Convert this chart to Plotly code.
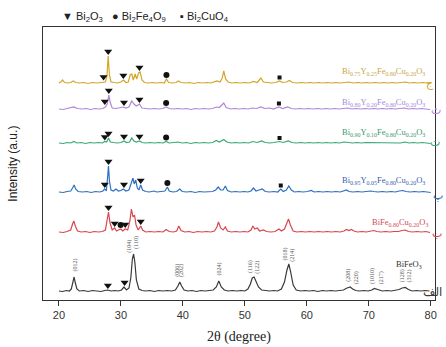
import numpy as np
import plotly.graph_objects as go

# ---------------- data (2theta, intensity above own baseline, a.u.) ----------------
bfo = [(20.0,1),(20.6,0.5),(21.2,1.5),(21.7,1),(22.0,3),(22.25,10),(22.45,15),(22.65,9),(22.9,3),(23.3,1),
       (24.0,1.5),(24.7,0.5),(25.4,1.5),(26.1,1),(26.8,0.5),(27.4,1.5),(27.9,2),(28.4,1),(29.0,1.5),(29.6,1),
       (30.1,2),(30.5,5),(30.9,2),(31.3,4),(31.6,14),(31.85,33),(32.05,38),(32.25,30),(32.5,12),(32.9,3),
       (33.4,1.5),(34.0,1),(34.7,1.5),(35.4,0.5),(36.1,1.5),(36.8,1),(37.5,1.5),(38.2,1),(38.8,2),(39.2,6),
       (39.5,10),(39.8,6),(40.2,2),(40.8,1),(41.5,1.5),(42.2,0.5),(42.9,1.5),(43.6,1),(44.3,1.5),(44.9,2),
       (45.4,5),(45.8,11),(46.2,5),(46.7,2),(47.3,1),(48.0,1.5),(48.7,1),(49.4,1.5),(50.0,1),(50.5,3),
       (50.9,8),(51.2,14),(51.5,15),(51.8,11),(52.2,5),(52.7,2),(53.3,1.5),(54.0,1),(54.7,1.5),(55.3,1),
       (55.9,3),(56.4,10),(56.8,22),(57.1,28),(57.4,20),(57.8,7),(58.3,2),(59.0,1),(59.7,1.5),(60.4,1),
       (61.1,1.5),(61.8,0.5),(62.5,1.5),(63.2,1),(63.9,1.5),(64.6,1),(65.3,1.5),(65.9,2),(66.5,4),(67.0,5),
       (67.4,3),(67.9,1.5),(68.5,1),(69.2,1.5),(69.9,1),(70.5,2),(70.9,3.5),(71.3,3),(71.7,2),(72.2,1),
       (72.9,1.5),(73.6,1),(74.3,1.5),(74.9,2.5),(75.4,4),(75.9,4.5),(76.4,2.5),(77.0,1),(77.7,1.5),(78.4,1),
       (79.1,1.5),(79.8,1)]

bfc = [(20.0,1),(20.7,0.5),(21.3,1.5),(21.9,3),(22.2,9),(22.4,12),(22.65,7),(23.0,2),(23.6,1),(24.3,1.5),
       (25.0,0.5),(25.7,1.5),(26.4,1),(27.0,1.5),(27.5,3),(27.8,14),(28.0,21),(28.25,10),(28.6,3),(29.0,5),
       (29.3,2),(29.6,3),(30.0,4),(30.3,2),(30.7,4),(31.1,3),(31.45,12),(31.7,24),(31.95,16),(32.2,18),
       (32.45,8),(32.8,3),(33.2,7),(33.5,3),(34.0,1),(34.7,1.5),(35.4,1),(36.1,1.5),(36.8,1),(37.3,3.5),
       (37.8,1.5),(38.5,1),(39.0,2),(39.35,7),(39.7,2.5),(40.3,1),(41.0,1.5),(41.7,0.5),(42.4,1.5),(43.1,1),
       (43.8,1.5),(44.5,1),(45.1,2),(45.5,6),(45.75,11),(46.1,5),(46.5,3),(46.85,6),(47.2,2),(47.8,1),
       (48.5,1.5),(49.2,1),(49.9,1.5),(50.5,1),(51.0,3),(51.3,7),(51.6,4),(52.0,5),(52.4,2),(53.0,3),
       (53.5,1.5),(54.2,1),(54.9,1.5),(55.5,4),(55.9,2),(56.4,4),(56.8,11),(57.05,14),(57.35,8),(57.8,2),
       (58.4,1),(59.1,1.5),(59.8,1),(60.5,1.5),(61.2,1),(61.9,1.5),(62.6,1),(63.3,1.5),(64.0,1),(64.7,1.5),
       (65.4,1),(66.0,2),(66.4,3.5),(66.8,2.5),(67.2,3.5),(67.6,2),(68.2,1),(68.9,1.5),(69.6,1),(70.3,1.5),
       (70.8,2.5),(71.3,1.5),(72.0,1),(72.7,1.5),(73.4,1),(74.1,1.5),(74.8,1.5),(75.4,2.5),(75.9,3),(76.4,1.5),
       (77.1,1),(77.8,1.5),(78.5,1),(79.2,1.5),(79.9,0.5)]

by05 = [(20.0,1),(20.7,0.5),(21.3,1.5),(21.9,2),(22.2,5),(22.45,8),(22.7,4),(23.1,1.5),(23.8,1),(24.5,1.5),
        (25.2,0.5),(25.9,1.5),(26.6,1),(27.1,2),(27.4,4),(27.65,2),(27.85,15),(28.0,27),(28.15,12),(28.4,3),
        (28.8,2),(29.2,4),(29.6,2),(30.0,2.5),(30.4,4),(30.8,2),(31.3,3),(31.7,10),(31.95,15),(32.15,9),
        (32.4,13),(32.65,5),(32.9,3),(33.2,8),(33.5,3),(34.0,1.5),(34.6,1),(35.3,2),(35.8,1),(36.5,1.5),
        (37.1,2),(37.5,6),(37.8,2),(38.4,1),(39.0,1.5),(39.5,4),(39.9,1.5),(40.6,1),(41.3,1.5),(42.0,0.5),
        (42.7,1.5),(43.4,1),(44.1,1.5),(44.8,1.5),(45.3,3),(45.7,6),(46.1,3),(46.5,3),(46.85,7),(47.2,2.5),
        (47.8,1),(48.5,1.5),(49.2,1),(49.9,1.5),(50.5,1),(51.0,2),(51.4,5),(51.8,2),(52.3,3),(52.8,4),
        (53.3,1.5),(54.0,1),(54.7,1.5),(55.3,1),(55.8,4),(56.2,1.5),(56.7,3),(57.1,7),(57.5,3),(58.0,1),
        (58.7,1.5),(59.4,1),(60.1,1.5),(60.7,2.5),(61.2,1),(61.9,1.5),(62.6,1),(63.3,1.5),(64.0,1),(64.7,1.5),
        (65.4,1),(66.0,2),(66.4,3),(66.8,1.5),(67.5,1),(68.2,1.5),(68.9,1),(69.6,1.5),(70.3,2),(70.8,1.5),
        (71.5,1),(72.2,1.5),(72.9,1),(73.6,1.5),(74.3,1),(74.9,2),(75.5,2.5),(76.0,1.5),(76.7,1),(77.4,1.5),
        (78.1,1),(78.8,1.5),(79.5,1),(80.0,0.5)]

by10 = [(20.0,1),(20.7,0.5),(21.3,1.5),(21.9,1),(22.4,2.5),(22.9,1),(23.6,1.5),(24.3,0.5),(25.0,1.5),(25.7,1),
        (26.4,1.5),(27.0,1),(27.4,2.5),(27.7,2),(28.0,6),(28.3,2),(28.8,1.5),(29.4,1),(30.0,1.5),(30.5,3),
        (30.9,1.5),(31.4,2),(31.75,6),(32.1,3),(32.5,2),(33.0,3),(33.4,1.5),(34.0,1),(34.7,1.5),(35.4,1),
        (36.1,1.5),(36.8,1),(37.3,2.5),(37.8,1),(38.5,1.5),(39.2,2),(39.9,1),(40.6,1.5),(41.3,0.5),(42.0,1.5),
        (42.7,1),(43.4,1.5),(44.1,1),(44.8,1.5),(45.4,3.5),(45.9,2),(46.6,4.5),(47.1,2),(47.8,1),(48.5,1.5),
        (49.2,1),(49.9,1.5),(50.6,1),(51.3,2.5),(52.0,1.5),(52.7,3),(53.3,1.5),(54.0,1),(54.7,1.5),(55.6,2.5),
        (56.2,1.5),(57.0,3),(57.6,1.5),(58.3,1),(59.0,1.5),(59.7,1),(60.4,1.5),(61.1,1),(61.8,1.5),(62.5,1),
        (63.2,1.5),(63.9,1),(64.6,1.5),(65.3,1),(66.0,2),(66.7,1.5),(67.4,1),(68.1,1.5),(68.8,1),(69.5,1.5),
        (70.2,1.5),(70.9,1),(71.6,1.5),(72.3,1),(73.0,1.5),(73.7,1),(74.4,1.5),(75.1,1),(75.8,2),(76.5,1),
        (77.2,1.5),(77.9,1),(78.6,1.5),(79.3,1),(80.0,0.5)]

by20 = [(20.0,1),(20.7,0.5),(21.3,1.5),(21.8,2),(22.4,3),(23.0,1.5),(23.7,1),(24.4,1.5),(25.1,0.5),(25.8,1.5),
        (26.5,1),(27.1,1.5),(27.5,3),(27.8,6),(28.05,15),(28.3,7),(28.6,2),(29.2,1.5),(29.8,2),(30.4,3),
        (30.8,2),(31.3,3),(31.75,9),(32.1,6),(32.5,4),(33.0,6),(33.4,2),(34.0,1.5),(34.7,1),(35.4,1.5),
        (36.1,1),(36.8,1.5),(37.3,3),(37.8,1.5),(38.5,1),(39.2,1.5),(39.9,1),(40.6,1.5),(41.3,0.5),(42.0,1.5),
        (42.7,1),(43.4,1.5),(44.1,1),(44.8,1.5),(45.4,3),(45.9,2.5),(46.6,7),(47.0,2.5),(47.7,1),(48.4,1.5),
        (49.1,1),(49.8,1.5),(50.5,1),(51.2,2),(51.9,1.5),(52.6,3),(53.2,1.5),(54.0,2),(54.6,1),(55.5,3),
        (56.1,1.5),(56.9,3),(57.5,1.5),(58.2,1),(58.9,1.5),(59.6,1),(60.3,1.5),(61.0,1),(61.7,1.5),(62.4,1),
        (63.1,1.5),(63.8,1),(64.5,1.5),(65.2,1),(65.9,1.5),(66.6,2),(67.3,1),(68.0,1.5),(68.7,1),(69.4,1.5),
        (70.1,1),(70.8,1.5),(71.5,1),(72.2,1.5),(72.9,1),(73.6,1.5),(74.3,1),(75.0,1.5),(75.7,2),(76.4,1),
        (77.1,1.5),(77.8,1),(78.5,1.5),(79.2,1),(79.9,0.5)]

by25 = [(20.0,1),(20.3,2),(20.6,4),(20.9,1.5),(21.4,1),(21.9,1.5),(22.3,3),(22.7,1.5),(23.3,1),(24.0,1.5),
        (24.7,0.5),(25.4,1.5),(26.1,1),(26.8,1.5),(27.2,2.5),(27.5,2),(27.75,8),(27.95,28),(28.15,9),(28.4,2),
        (28.9,1.5),(29.5,1),(30.0,2),(30.4,4),(30.8,1.5),(31.2,2),(31.5,9),(31.75,10),(32.0,4),(32.3,10),
        (32.55,5),(32.85,11),(33.1,12),(33.4,4),(33.8,1.5),(34.4,1),(35.1,1.5),(35.8,1),(36.5,1.5),(37.0,1),
        (37.35,5),(37.7,1.5),(38.3,1),(38.9,1.5),(39.3,3),(39.7,1.5),(40.4,1),(41.1,1.5),(41.8,0.5),(42.5,1.5),
        (43.2,1),(43.9,1.5),(44.5,1),(45.0,2),(45.5,3),(46.0,2),(46.35,6),(46.6,13),(46.9,5),(47.3,2),
        (47.9,1),(48.6,1.5),(49.3,1),(50.0,1.5),(50.7,1),(51.4,2.5),(52.0,1.5),(52.6,6),(53.0,2),(53.6,1.5),
        (54.3,1),(55.0,1.5),(55.6,3),(56.1,1.5),(56.7,2),(57.2,3.5),(57.7,1.5),(58.4,1),(59.1,1.5),(59.8,1),
        (60.5,1.5),(61.2,1),(61.9,1.5),(62.6,1),(63.3,1.5),(64.0,1),(64.7,1.5),(65.4,1),(66.1,1.5),(66.8,2),
        (67.5,1),(68.2,1.5),(68.9,1),(69.6,1.5),(70.3,1),(71.0,1.5),(71.7,1),(72.4,1.5),(73.1,1),(73.8,1.5),
        (74.5,1),(75.2,1.5),(75.9,2),(76.6,1),(77.3,1.5),(78.0,1),(78.7,1.5),(79.4,1),(79.8,0.5)]

sample_names = [
    "BiFeO<sub>3</sub>",
    "BiFe<sub>0.80</sub>Cu<sub>0.20</sub>O<sub>3</sub>",
    "Bi<sub>0.95</sub>Y<sub>0.05</sub>Fe<sub>0.80</sub>Cu<sub>0.20</sub>O<sub>3</sub>",
    "Bi<sub>0.90</sub>Y<sub>0.10</sub>Fe<sub>0.80</sub>Cu<sub>0.20</sub>O<sub>3</sub>",
    "Bi<sub>0.80</sub>Y<sub>0.20</sub>Fe<sub>0.80</sub>Cu<sub>0.20</sub>O<sub>3</sub>",
    "Bi<sub>0.75</sub>Y<sub>0.25</sub>Fe<sub>0.80</sub>Cu<sub>0.20</sub>O<sub>3</sub>",
]
sample_letters = ["الف", "ب", "پ", "ت", "ث", "ج"]
patterns = [bfo, bfc, by05, by10, by20, by25]

# impurity phase markers: (pattern index, 2theta)
bi2o3_marks = [(0,27.9),(0,30.6),(1,28.0),(1,29.0),(1,30.7),(1,33.2),(2,27.4),(2,28.0),(2,30.5),(2,33.2),
               (3,27.4),(3,28.0),(3,30.5),(3,33.0),(4,27.4),(4,28.05),(4,30.5),(4,33.0),
               (5,27.2),(5,27.95),(5,30.4),(5,33.0)]
bi2fe4o9_marks = [(1,29.95),(2,37.5),(3,37.3),(4,37.3),(5,37.35)]
bi2cuo4_marks = [(2,55.8),(3,55.6),(4,55.5),(5,55.6)]

# Miller indices of BiFeO3 reflections (label position in 2theta)
hkl_pos = [22.6, 31.4, 32.5, 39.1, 39.8, 45.85, 50.8, 52.1, 56.5, 57.7, 66.7, 68.0, 70.6, 72.0, 75.4, 76.5]
hkl_txt = ["(012)", "(104)", "(110)", "(006)", "(202)", "(024)", "(116)", "(122)", "(018)", "(214)",
           "(208)", "(220)", "(1010)", "(217)", "(128)", "(312)"]

# ---------------- style ----------------
colors = ["#3a3a3a", "#d9454f", "#2f6fc0", "#3aa976", "#b386da", "#d5a52a"]
label_colors = ["#333333", "#d04a55", "#3a5fae", "#3a9a6a", "#a58be0", "#c9a64a"]
offsets = [8, 67, 107, 156, 190, 216]
label_x = [76.5, 75.0, 72.3, 72.3, 72.3, 72.3]
label_dy = [28, 11, 13, 12, 8, 13]
letter_px = [434, 439, 440, 437, 438, 432]
letter_dy = [0, 0, -2, 2, 0, 1]

L, R, T, B = 43, 9, 27, 47
W, H = 446, 347
pw, ph = W - L - R, H - T - B

fig = go.Figure()

for pat, col, off in zip(patterns, colors, offsets):
    xs = [p[0] for p in pat]
    ys = [p[1] + off for p in pat]
    fig.add_trace(go.Scatter(x=xs, y=ys, mode="lines", line=dict(color=col, width=1.2),
                             showlegend=False, hoverinfo="skip"))


def mark_pos(marks, gap):
    mx, my = [], []
    for idx, x0 in marks:
        pat = patterns[idx]
        xs = np.array([p[0] for p in pat])
        ys = np.array([p[1] for p in pat])
        grid = np.linspace(x0 - 0.2, x0 + 0.2, 21)
        mx.append(x0)
        my.append(float(np.max(np.interp(grid, xs, ys))) + offsets[idx] + gap)
    return mx, my


for marks, sym, size, gap in [(bi2o3_marks, "triangle-down", 7, 4.5),
                              (bi2fe4o9_marks, "circle", 6, 4),
                              (bi2cuo4_marks, "square", 4, 3.5)]:
    mx, my = mark_pos(marks, gap)
    fig.add_trace(go.Scatter(x=mx, y=my, mode="markers",
                             marker=dict(symbol=sym, size=size, color="#111111", line=dict(width=0)),
                             showlegend=False, hoverinfo="skip", cliponaxis=False))

ann = []
# sample labels
for i in range(6):
    ann.append(dict(x=label_x[i], y=offsets[i] + label_dy[i], xref="x", yref="y",
                    text=sample_names[i], showarrow=False, xanchor="center", yanchor="middle",
                    font=dict(family="Liberation Serif", size=8.5, color=label_colors[i])))
    ann.append(dict(x=(letter_px[i] - L) / pw, y=offsets[i] + letter_dy[i], xref="paper", yref="y",
                    text=sample_letters[i], showarrow=False, xanchor="center", yanchor="middle",
                    font=dict(family="DejaVu Sans", size=11 if i else 12, color=colors[i])))

# hkl labels
bx = np.array([p[0] for p in bfo])
by = np.array([p[1] for p in bfo])
for xp, t in zip(hkl_pos, hkl_txt):
    g = np.linspace(xp - 0.5, xp + 0.5, 41)
    top = float(np.max(np.interp(g, bx, by))) + offsets[0]
    ann.append(dict(x=xp, y=top + 3, xref="x", yref="y", text=t, textangle=-90, showarrow=False,
                    xanchor="center", yanchor="bottom",
                    font=dict(family="Liberation Serif", size=6, color="#555555")))

# legend header
leg = [("▼ Bi<sub>2</sub>O<sub>3</sub>", 60), ("● Bi<sub>2</sub>Fe<sub>4</sub>O<sub>9</sub>", 110),
       ("▪ Bi<sub>2</sub>CuO<sub>4</sub>", 179)]
for t, px in leg:
    ann.append(dict(x=(px - L) / pw, y=(H - B - 17) / ph, xref="paper", yref="paper", text=t,
                    showarrow=False, xanchor="left", yanchor="middle",
                    font=dict(family="Liberation Sans", size=11, color="#222222")))

# axis titles
ann.append(dict(x=0.5, y=(H - B - 337) / ph, xref="paper", yref="paper", text="2θ (degree)",
                showarrow=False, xanchor="center", yanchor="middle",
                font=dict(family="Liberation Serif", size=14, color="#222222")))
ann.append(dict(x=(12 - L) / pw, y=0.5, xref="paper", yref="paper", text="Intensity (a.u.)",
                textangle=-90, showarrow=False, xanchor="center", yanchor="middle",
                font=dict(family="Liberation Sans", size=12, color="#222222")))

fig.update_layout(
    width=W, height=H, margin=dict(l=L, r=R, t=T, b=B),
    paper_bgcolor="white", plot_bgcolor="white",
    annotations=ann, showlegend=False,
    xaxis=dict(range=[17.43, 80.69], tickvals=[20, 30, 40, 50, 60, 70, 80], ticks="outside",
               ticklen=5, tickwidth=1, tickcolor="#333333", showline=True, linecolor="#333333",
               linewidth=1, mirror=True, showgrid=False, zeroline=False,
               tickfont=dict(family="Liberation Sans", size=11, color="#333333")),
    yaxis=dict(range=[0, 273], showticklabels=False, ticks="", showline=True, linecolor="#333333",
               linewidth=1, mirror=True, showgrid=False, zeroline=False),
)

fig.write_html("out.html")
